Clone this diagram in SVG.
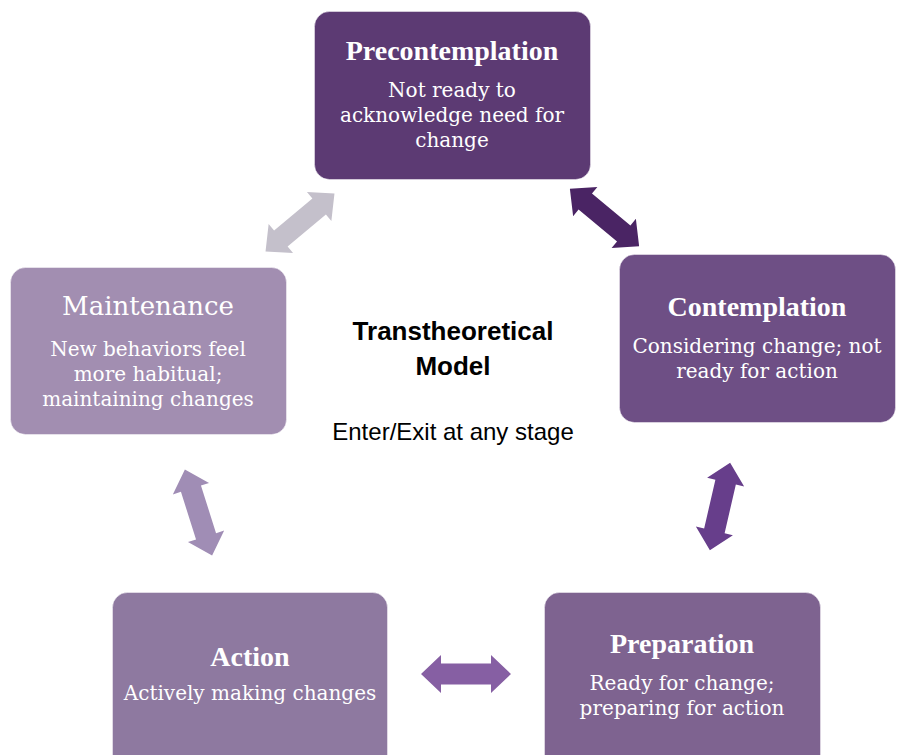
<svg xmlns="http://www.w3.org/2000/svg" width="901" height="755" viewBox="0 0 901 755">
  <style>
    .box { stroke: #ffffff; stroke-opacity: 0.45; stroke-width: 1; }
    .title { font-family: "Liberation Serif", "DejaVu Serif", serif; font-weight: bold; font-size: 28px; fill: #ffffff; text-anchor: middle; }
    .title-reg { font-family: "DejaVu Serif", "Liberation Serif", serif; font-size: 26px; fill: #ffffff; text-anchor: middle; }
    .body { font-family: "DejaVu Serif", "Liberation Serif", serif; font-size: 20px; fill: #ffffff; text-anchor: middle; }
    .center-title { font-family: "Liberation Sans", Arial, sans-serif; font-weight: bold; font-size: 26px; fill: #000000; text-anchor: middle; }
    .center-sub { font-family: "Liberation Sans", Arial, sans-serif; font-size: 24px; fill: #000000; text-anchor: middle; }
  </style>
  <defs>
    <!-- double-headed block arrow, centred on the origin, pointing along x -->
    <path id="dbl-arrow" d="M -45,0 L -25,-19 L -25,-10.5 L 25,-10.5 L 25,-19 L 45,0 L 25,19 L 25,10.5 L -25,10.5 L -25,19 Z"/>
  </defs>
  <rect width="901" height="755" fill="#ffffff"/>

  <g id="connectors">
    <use href="#dbl-arrow" transform="translate(300,222.5) rotate(-40)" fill="#C4C0CB"/>
    <use href="#dbl-arrow" transform="translate(604.5,217.5) rotate(39.7)" fill="#4A2464"/>
    <use href="#dbl-arrow" transform="translate(720,506.5) rotate(103)" fill="#673E8B"/>
    <use href="#dbl-arrow" transform="translate(466,674)" fill="#865FA3"/>
    <use href="#dbl-arrow" transform="translate(198.5,512.5) rotate(72.4)" fill="#A08DB5"/>
  </g>

  <g id="precontemplation">
    <rect class="box" x="314.5" y="11.5" width="276" height="168" rx="15" fill="#5C3A73"/>
    <text class="title" x="452" y="60">Precontemplation</text>
    <text class="body" x="452" y="96.5">Not ready to</text>
    <text class="body" x="452" y="121.5">acknowledge need for</text>
    <text class="body" x="452" y="146.5">change</text>
  </g>

  <g id="contemplation">
    <rect class="box" x="619.5" y="254.5" width="276" height="168" rx="15" fill="#6E4F85"/>
    <text class="title" x="757" y="316">Contemplation</text>
    <text class="body" x="757" y="353">Considering change; not</text>
    <text class="body" x="757" y="378">ready for action</text>
  </g>

  <g id="preparation">
    <rect class="box" x="544.5" y="592.5" width="276" height="180" rx="15" fill="#7E6390"/>
    <text class="title" x="682" y="653">Preparation</text>
    <text class="body" x="682" y="690">Ready for change;</text>
    <text class="body" x="682" y="715">preparing for action</text>
  </g>

  <g id="action">
    <rect class="box" x="112.5" y="592.5" width="275" height="180" rx="15" fill="#8E79A0"/>
    <text class="title" x="250" y="666">Action</text>
    <text class="body" x="250" y="700">Actively making changes</text>
  </g>

  <g id="maintenance">
    <rect class="box" x="10.5" y="267.5" width="276" height="167" rx="15" fill="#A28EB1"/>
    <text class="title-reg" x="148" y="315">Maintenance</text>
    <text class="body" x="148" y="355.5">New behaviors feel</text>
    <text class="body" x="148" y="380.5">more habitual;</text>
    <text class="body" x="148" y="405.5">maintaining changes</text>
  </g>

  <g id="model-label">
    <text class="center-title" x="453" y="340">Transtheoretical</text>
    <text class="center-title" x="453" y="375">Model</text>
    <text class="center-sub" x="453" y="440">Enter/Exit at any stage</text>
  </g>
</svg>
